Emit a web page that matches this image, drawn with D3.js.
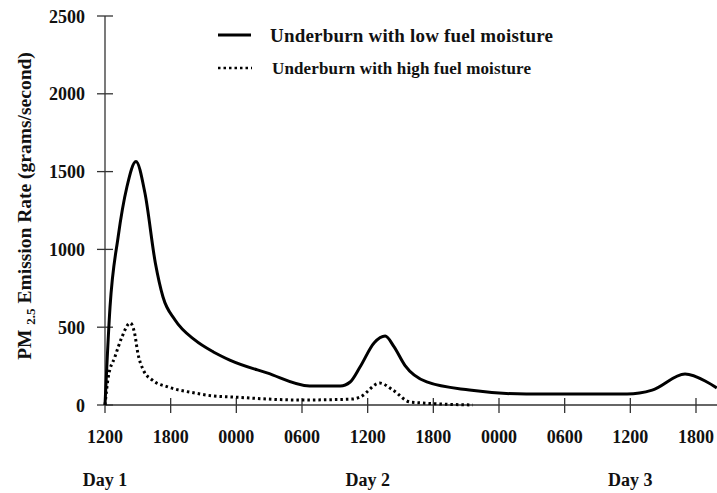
<!DOCTYPE html>
<html>
<head>
<meta charset="utf-8">
<script src="https://cdn.jsdelivr.net/npm/d3@7"></script>
<style>
  body { margin: 0; background: #fff; }
  svg text { font-family: "Liberation Serif", "Times New Roman", serif; font-weight: bold; fill: #111; }
</style>
</head>
<body>
<svg id="chart" width="717" height="493"></svg>
<script>
// hours after 1200 on Day 1
const tickHours = [0, 6, 12, 18, 24, 30, 36, 42, 48, 54];
const tickLabels = ["1200", "1800", "0000", "0600", "1200", "1800", "0000", "0600", "1200", "1800"];
const dayHours = [0, 24, 48];
const dayLabels = ["Day 1", "Day 2", "Day 3"];
const yTicks = [0, 500, 1000, 1500, 2000, 2500];

const lowMoisture = [
    [0, 0], [0.46, 630], [1.2, 1080], [2.0, 1401], [2.83, 1565], [3.65, 1362],
    [4.6, 913], [5.3, 694], [6.4, 546], [8.2, 418], [9.9, 341],
    [11.4, 289], [14.8, 206], [18.7, 122], [21.5, 122], [22.4, 148], [23.3, 244],
    [24.6, 400], [25.6, 443], [26.4, 375], [27.4, 255], [29.4, 148], [33.3, 96],
    [38.5, 71], [47.7, 71], [50.0, 96], [53.0, 199], [55.0, 148], [55.9, 110]
];
const highMoisture = [
    [0, 0], [0.3, 180], [0.9, 308], [1.55, 437], [2.3, 527], [2.7, 463],
    [3.0, 334], [3.5, 225], [4.3, 161], [5.75, 116], [8.2, 77], [9.9, 58],
    [11.7, 51], [17.8, 32], [22.6, 38], [23.3, 51], [25.1, 141], [26.3, 96],
    [27.9, 19], [33.6, 0]
];

const legendItems = ["Underburn with low fuel moisture", "Underburn with high fuel moisture"];

const svg = d3.select("#chart");

const x = d3.scaleLinear().domain([0, 54]).range([105, 696]);
const y = d3.scaleLinear().domain([0, 2500]).range([405, 16]);

// y axis
const yAxis = svg.append("g").attr("class", "y-axis");
yAxis.append("line")
    .attr("x1", x(0)).attr("x2", x(0))
    .attr("y1", y(2500)).attr("y2", y(0))
    .attr("stroke", "#333").attr("stroke-width", 1.3);
yAxis.selectAll("line.tick")
    .data(yTicks)
    .join("line")
    .attr("class", "tick")
    .attr("x1", x(0) - 8).attr("x2", x(0) + 8)
    .attr("y1", d => y(d)).attr("y2", d => y(d))
    .attr("stroke", "#333").attr("stroke-width", 1.3);
yAxis.selectAll("text")
    .data(yTicks)
    .join("text")
    .attr("x", 85)
    .attr("y", d => y(d) + 6.5)
    .attr("text-anchor", "end")
    .attr("font-size", 18)
    .text(d => d);

// x axis
const xAxis = svg.append("g").attr("class", "x-axis");
xAxis.append("line")
    .attr("x1", x(0)).attr("x2", 717)
    .attr("y1", y(0)).attr("y2", y(0))
    .attr("stroke", "#333").attr("stroke-width", 1.3);
xAxis.selectAll("line.tick")
    .data(tickHours)
    .join("line")
    .attr("class", "tick")
    .attr("x1", d => x(d)).attr("x2", d => x(d))
    .attr("y1", y(0) - 7).attr("y2", y(0) + 8)
    .attr("stroke", "#333").attr("stroke-width", 1.3);
xAxis.selectAll("text.tl")
    .data(tickHours)
    .join("text")
    .attr("class", "tl")
    .attr("x", d => x(d))
    .attr("y", 443)
    .attr("text-anchor", "middle")
    .attr("font-size", 18)
    .text((d, i) => tickLabels[i]);
xAxis.selectAll("text.day")
    .data(dayHours)
    .join("text")
    .attr("class", "day")
    .attr("x", d => x(d))
    .attr("y", 486)
    .attr("text-anchor", "middle")
    .attr("font-size", 18)
    .text((d, i) => dayLabels[i]);

// y label with subscript
const yLabel = svg.append("text")
    .attr("transform", "translate(31,206) rotate(-90)")
    .attr("text-anchor", "middle")
    .attr("font-size", 19.5);
yLabel.append("tspan").text("PM ");
yLabel.append("tspan").attr("font-size", 13).attr("dy", 4).text("2.5");
yLabel.append("tspan").attr("dy", -4).text(" Emission Rate (grams/second)");

// lines
const line = d3.line()
    .x(d => x(d[0]))
    .y(d => y(d[1]))
    .curve(d3.curveMonotoneX);

svg.append("path")
    .datum(lowMoisture)
    .attr("d", line)
    .attr("fill", "none")
    .attr("stroke", "#000")
    .attr("stroke-width", 3);

svg.append("path")
    .datum(highMoisture)
    .attr("d", line)
    .attr("fill", "none")
    .attr("stroke", "#000")
    .attr("stroke-width", 3)
    .attr("stroke-dasharray", "2.5,3");

// legend
const legend = svg.append("g").attr("class", "legend");
legend.append("line")
    .attr("x1", 218).attr("x2", 251).attr("y1", 35).attr("y2", 35)
    .attr("stroke", "#000").attr("stroke-width", 3);
legend.append("line")
    .attr("x1", 218).attr("x2", 252).attr("y1", 68).attr("y2", 68)
    .attr("stroke", "#000").attr("stroke-width", 2.5)
    .attr("stroke-dasharray", "2.5,3");
legend.append("text")
    .attr("x", 270).attr("y", 42)
    .attr("font-size", 19)
    .attr("textLength", 283)
    .attr("lengthAdjust", "spacing")
    .text(legendItems[0]);
legend.append("text")
    .attr("x", 272).attr("y", 74)
    .attr("font-size", 17)
    .attr("textLength", 259)
    .attr("lengthAdjust", "spacing")
    .text(legendItems[1]);
</script>
</body>
</html>
